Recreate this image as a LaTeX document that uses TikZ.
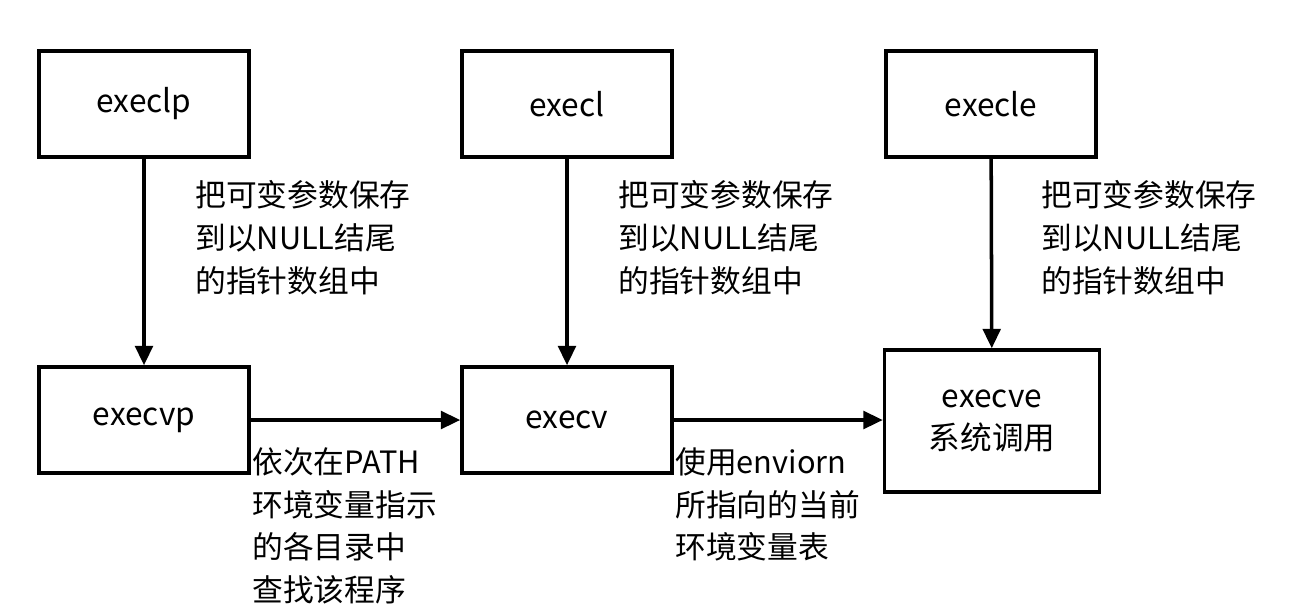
\documentclass[tikz,border=0pt]{standalone}
\usepackage{fontspec}
\setmainfont{Noto Sans CJK SC}
\usetikzlibrary{arrows.meta,positioning}
\tikzset{
  func/.style={draw, line width=2pt, minimum width=4.2cm, minimum height=2.12cm, align=center, font=\fontsize{18}{24}\selectfont},
  note/.style={anchor=north west, align=left, inner sep=0pt, font=\fontsize{17.5}{24.4}\selectfont},
  call/.style={line width=2pt, -{Triangle[length=11pt,width=10pt]}}
}
\begin{document}
\begin{tikzpicture}[x=0.02cm,y=-0.02cm]
\useasboundingbox (0,0) rectangle (1307,613);

% top row
\node[func] (execlp) at (144,104) {execlp};
\node[func] (execl) at (567,104) {execl};
\node[func] (execle) at (991,104) {execle};

% bottom row
\node[func] (execvp) at (144,420) {execvp};
\node[func] (execv) at (567,420) {execv};
\node[func, minimum width=4.3cm, minimum height=2.84cm] (execve) at (992,421) {execve\\系统调用};

\draw[call] (execlp) -- (execvp);
\draw[call] (execl) -- (execv);
\draw[call] (execle) -- (execve);
\draw[call] (execvp) -- (execv);
\draw[call] (execv.east) -- (execv.east -| execve.west);

% notes
\node[note] (n1) at (195,180) {把可变参数保存\\到以NULL结尾\\的指针数组中};
\node[note] (n2) at (618,180) {把可变参数保存\\到以NULL结尾\\的指针数组中};
\node[note] (n3) at (1041,180) {把可变参数保存\\到以NULL结尾\\的指针数组中};
\node[note] (n4) at (252,447) {依次在PATH\\环境变量指示\\的各目录中\\查找该程序};
\node[note] (n5) at (675,447) {使用enviorn\\所指向的当前\\环境变量表};
\end{tikzpicture}
\end{document}
